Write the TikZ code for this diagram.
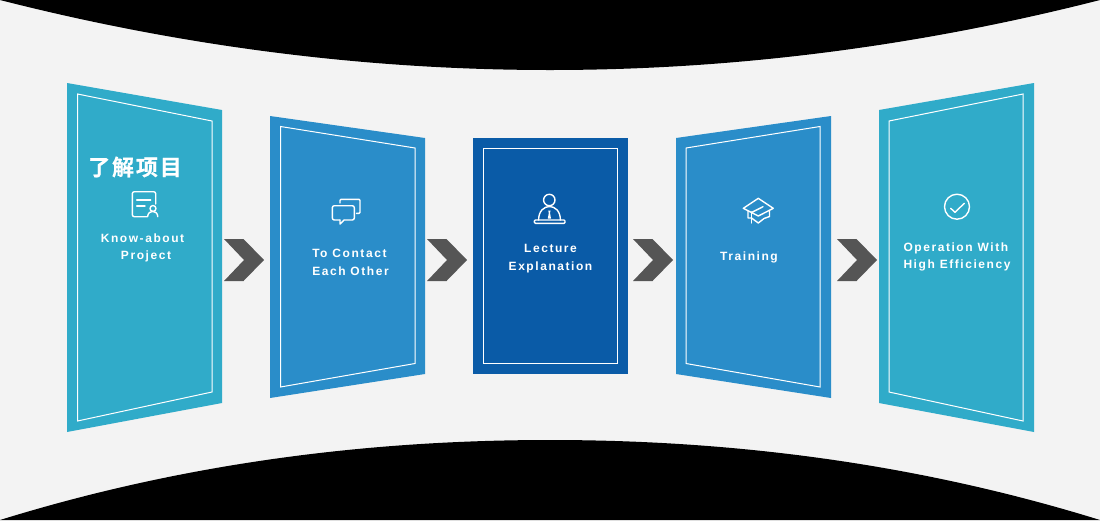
\documentclass[tikz,border=0pt]{standalone}
\usepackage{fontspec}
\newfontfamily\labelfont[LetterSpace=13]{Liberation Sans Bold}
\newfontfamily\cjkfont[LetterSpace=8.5,FakeBold=0.5]{Noto Sans CJK SC Bold}
\definecolor{pagegrey}{HTML}{F3F3F3}
\definecolor{panelteal}{HTML}{30ABC9}
\definecolor{panelblue}{HTML}{2A8DC9}
\definecolor{paneldark}{HTML}{0A5BA7}
\definecolor{chevrongrey}{HTML}{555555}
\tikzset{
  panel/.style={line width=0pt},
  frame/.style={draw=white, line width=1pt},
  icon/.style={draw=white, line width=1.4pt, line join=round, line cap=round},
  caption/.style={text=white, align=center, font=\labelfont\fontsize{12}{17.5}\selectfont},
  chevron/.style={fill=chevrongrey}
}
\begin{document}
\begin{tikzpicture}
[every node/.style={inner sep=0pt}]
\useasboundingbox (0pt, 0pt) rectangle (1100pt, -520pt);
\fill [pagegrey] (0pt, 0pt) rectangle (1100pt, -520pt);
% black bands
\fill [black] (0pt, 0pt) .. controls (183pt, -46.7pt) and (367pt, -70pt) .. (550pt, -70pt) .. controls (733pt, -70pt) and (917pt, -46.7pt) .. (1100pt, 0pt) -- cycle;
\fill [black] (0pt, -520pt) .. controls (183pt, -463.3pt) and (367pt, -440pt) .. (550pt, -440pt) .. controls (733pt, -440pt) and (917pt, -463.3pt) .. (1100pt, -520pt) -- cycle;
% panels
\fill [panel, panelteal] (67pt, -83pt) -- (222pt, -110pt) -- (222pt, -403pt) -- (67pt, -432pt) -- cycle;
\draw [frame] (77.5pt, -94pt) -- (212pt, -121pt) -- (212pt, -392pt) -- (77.5pt, -421pt) -- cycle;
\fill [panel, panelblue] (270pt, -116pt) -- (425pt, -138pt) -- (425pt, -374pt) -- (270pt, -398pt) -- cycle;
\draw [frame] (280.5pt, -126.5pt) -- (415pt, -148pt) -- (415pt, -363.5pt) -- (280.5pt, -387pt) -- cycle;
\fill [panel, paneldark] (473pt, -138pt) -- (628pt, -138pt) -- (628pt, -374pt) -- (473pt, -374pt) -- cycle;
\draw [frame] (483.5pt, -148.5pt) -- (617.5pt, -148.5pt) -- (617.5pt, -363.5pt) -- (483.5pt, -363.5pt) -- cycle;
\fill [panel, panelblue] (676pt, -138pt) -- (831pt, -116pt) -- (831pt, -398pt) -- (676pt, -374pt) -- cycle;
\draw [frame] (686pt, -148pt) -- (820pt, -126.5pt) -- (820pt, -387pt) -- (686pt, -363.5pt) -- cycle;
\fill [panel, panelteal] (879pt, -110pt) -- (1034pt, -83pt) -- (1034pt, -432pt) -- (879pt, -403pt) -- cycle;
\draw [frame] (889pt, -121pt) -- (1023pt, -94pt) -- (1023pt, -421pt) -- (889pt, -392pt) -- cycle;
% chevrons
\fill [chevron] (224pt, -239pt) -- (243.5pt, -239pt) -- (264pt, -260pt) -- (243.5pt, -281pt) -- (224pt, -281pt) -- (244pt, -260pt) -- cycle;
\fill [chevron] (427pt, -239pt) -- (446.5pt, -239pt) -- (467pt, -260pt) -- (446.5pt, -281pt) -- (427pt, -281pt) -- (447pt, -260pt) -- cycle;
\fill [chevron] (633pt, -239pt) -- (652.5pt, -239pt) -- (673pt, -260pt) -- (652.5pt, -281pt) -- (633pt, -281pt) -- (653pt, -260pt) -- cycle;
\fill [chevron] (837pt, -239pt) -- (856.5pt, -239pt) -- (877pt, -260pt) -- (856.5pt, -281pt) -- (837pt, -281pt) -- (857pt, -260pt) -- cycle;
% icon: know-about
\draw [icon, rounded corners=2pt] (147pt, -216.7pt) -- (132.3pt, -216.7pt) -- (132.3pt, -191.7pt) -- (155.7pt, -191.7pt) -- (155.7pt, -204pt);
\draw [icon] (136.7pt, -200pt) -- (150.7pt, -200pt);
\draw [icon] (136.7pt, -206pt) -- (145pt, -206pt);
\draw [icon] (153pt, -208.5pt) circle (3pt);
\draw [icon] (147.6pt, -216.7pt) .. controls (148pt, -209.5pt) and (157.5pt, -209.5pt) .. (157.8pt, -216.7pt);
% icon: contact
\draw [icon, rounded corners=2pt] (340pt, -220pt) -- (332.3pt, -220pt) -- (332.3pt, -205.7pt) -- (354.3pt, -205.7pt) -- (354.3pt, -220pt) -- (344pt, -220pt);
\draw [icon] (340pt, -220pt) -- (340pt, -224pt) -- (344pt, -220pt);
\draw [icon, rounded corners=1pt] (340pt, -203pt) -- (340pt, -199.3pt) -- (360pt, -199.3pt) -- (360pt, -213.3pt) -- (356.5pt, -213.3pt);
% icon: lecture
\draw [icon] (549.3pt, -200pt) circle (5.7pt);
\draw [icon] (538.6pt, -220pt) .. controls (538.6pt, -202pt) and (560.4pt, -202pt) .. (560.4pt, -220pt);
\draw [icon, rounded corners=1pt] (534.4pt, -220pt) rectangle (565pt, -223.3pt);
\fill [white] (548.2pt, -210.5pt) -- (550.6pt, -210.5pt) -- (550pt, -213pt) -- (551pt, -218.5pt) -- (547.8pt, -218.5pt) -- (548.8pt, -213pt) -- cycle;
% icon: training
\draw [icon] (758.3pt, -198.3pt) -- (773.3pt, -208.3pt) -- (758.3pt, -216pt) -- (743.3pt, -208.3pt) -- cycle;
\draw [icon] (748pt, -211pt) -- (748pt, -218pt) -- (751.5pt, -218pt) -- (758.3pt, -223pt) -- (764pt, -218.5pt) -- (769.5pt, -216.5pt) -- (769.5pt, -210.5pt);
\draw [icon] (751.5pt, -212pt) -- (751.5pt, -223pt);
\draw [icon] (751.5pt, -212.5pt) -- (763pt, -206.7pt);
% icon: efficiency
\draw [icon] (957pt, -206.7pt) circle (12.5pt);
\draw [icon] (950.7pt, -208.3pt) -- (955pt, -212.3pt) -- (964.3pt, -203.3pt);
% captions
\node (cjk title) at (135pt, -167pt) [text=white, font=\cjkfont\fontsize{22}{24}\selectfont] {了解项目};
\node (know) at (142.5pt, -248pt) [caption] {Know-about\\\hspace*{7pt}Project};
\node (contact) at (350.5pt, -262.5pt) [caption, align=left] {To Contact\\Each Other};
\node (lecture) at (550.5pt, -258.5pt) [caption] {Lecture\\Explanation};
\node (training) at (749pt, -257pt) [caption] {Training};
\node (operation) at (957pt, -257pt) [caption, align=left] {Operation With\\High Efficiency};
\end{tikzpicture}
\end{document}
